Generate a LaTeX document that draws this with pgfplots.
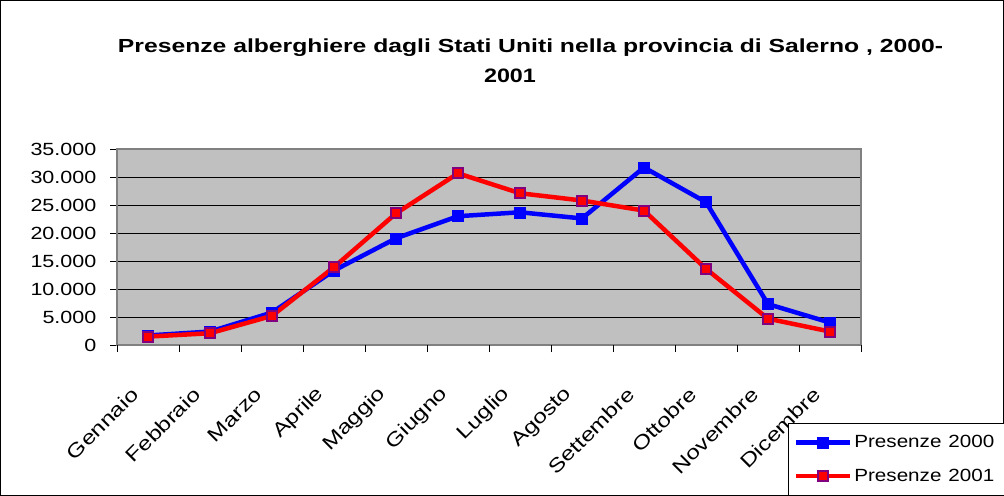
\documentclass[border=0pt]{standalone}
\usepackage{pgfplots}
\pgfplotsset{compat=1.18}
\usepackage{fontspec}
\setmainfont{Liberation Sans}
\definecolor{plotgray}{RGB}{192,192,192}
\definecolor{bordergray}{RGB}{128,128,128}
\definecolor{mblue}{RGB}{0,0,255}
\definecolor{mred}{RGB}{255,0,0}
\definecolor{mpurple}{RGB}{128,0,128}
\newcommand{\lblfont}{\fontsize{17.7}{20}\selectfont}
\newcommand{\xlblfont}{\fontsize{19.5}{22}\selectfont}
\begin{document}
\begin{tikzpicture}
\useasboundingbox (0bp,0bp) rectangle (1004bp,496bp);
\draw[black, line width=1bp] (0.5bp,0.5bp) rectangle (1003.5bp,495.5bp);
\node[font=\bfseries\fontsize{19}{22}\selectfont, xscale=1.305, anchor=base, inner sep=0pt] at (530.5bp,443.7bp) {Presenze alberghiere dagli Stati Uniti nella provincia di Salerno , 2000-};
\node[font=\bfseries\fontsize{19.5}{22}\selectfont, xscale=1.2, anchor=base, inner sep=0pt] at (510bp,413.7bp) {2001};
\begin{axis}[
  at={(117bp,151bp)}, anchor=south west,
  scale only axis, width=744bp, height=196bp,
  xmin=-0.5, xmax=11.5, ymin=0, ymax=35000,
  axis background/.style={fill=plotgray},
  axis line style={bordergray, line width=1.5bp},
  tick pos=left, tick align=outside,
  major tick length=7bp,
  tick style={black, line width=0.8bp},
  ytick={0,5000,10000,15000,20000,25000,30000,35000},
  scaled y ticks=false,
  yticklabel style={/pgf/number format/1000 sep={.}, /pgf/number format/assume math mode=true, font=\lblfont, xscale=1.22, anchor=east, inner sep=0pt, xshift=-11bp},
  ymajorgrids, major grid style={black, line width=0.6bp},
  xtick={0,...,11},
  xticklabels={Gennaio,Febbraio,Marzo,Aprile,Maggio,Giugno,Luglio,Agosto,Settembre,Ottobre,Novembre,Dicembre},
  major x tick style={draw=none},
  xticklabel style={font=\xlblfont, anchor=east, inner sep=0pt, xshift=-13bp, yshift=-39bp, rotate=45, xscale=1.25},
  extra x ticks={-0.5,0.5,1.5,2.5,3.5,4.5,5.5,6.5,7.5,8.5,9.5,10.5,11.5},
  extra x tick labels={},
  extra x tick style={grid=none, major x tick style={draw=black, line width=0.8bp}},
  legend style={at={(0.9019,-0.398)}, anchor=north west, draw=black, line width=1bp, fill=white, font=\lblfont, inner xsep=5bp, inner ysep=10bp, row sep=16bp, text width=142bp, /tikz/every node/.append style={xscale=1.17}},
  legend cell align=left,
  legend image code/.code={\draw[mark repeat=2, mark phase=2, #1] plot coordinates {(0bp,0bp) (27bp,0bp) (54bp,0bp)};},
  clip=false,
]
\addplot[mblue, line width=4.5bp, mark=square*, mark size=5.5bp, mark options={fill=mblue, draw=mblue, line width=0.5bp}] coordinates {
(0,1700) (1,2400) (2,5800) (3,13300) (4,19050) (5,23000) (6,23700) (7,22600) (8,31700) (9,25500) (10,7300) (11,4000)};
\addlegendentry{Presenze 2000}
\addplot[mred, line width=4.5bp, mark=square*, mark size=5bp, mark options={fill=mred, draw=mpurple, line width=2bp}] coordinates {
(0,1500) (1,2100) (2,5200) (3,13900) (4,23500) (5,30650) (6,27100) (7,25800) (8,24000) (9,13600) (10,4700) (11,2400)};
\addlegendentry{Presenze 2001}
\end{axis}
\end{tikzpicture}
\end{document}
